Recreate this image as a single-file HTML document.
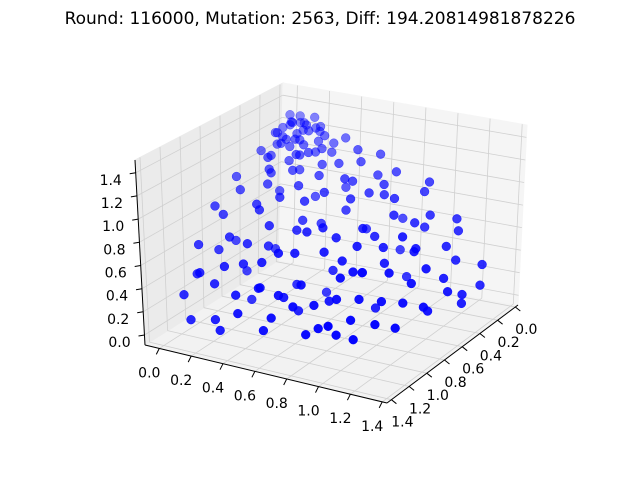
<!DOCTYPE html>
<html><head><meta charset="utf-8"><style>
html,body{margin:0;padding:0;background:#fff}
svg{display:block}
text{font-family:"DejaVu Sans","Liberation Sans",sans-serif}
</style></head><body>
<svg id="chart" width="640" height="480" viewBox="0 0 640 480">
<text x="320" y="24" text-anchor="middle" font-size="17" fill="#000">Round: 116000, Mutation: 2563, Diff: 194.20814981878226</text>
<g id="panes"></g>
<g id="grid"></g>
<g id="axes"></g>
<g id="points"></g>
</svg>
<script>
const xTicks = [0.0,0.2,0.4,0.6,0.8,1.0,1.2,1.4];
const yTicks = [0.0,0.2,0.4,0.6,0.8,1.0,1.2,1.4];
const zTicks = [0.0,0.2,0.4,0.6,0.8,1.0,1.2,1.4];
const xs = [0.04,0.09,0.13,0.02,0.18,0.07,0.22,0.26,0.11,0,0.04,0.16,0.31,0.25,0.35,0.04,0.19,0.09,0.28,0.13,
0.53,0.18,0.62,0.44,0.7,0.09,0.4,0.79,0.26,0.57,0.02,0.48,0.66,0.31,0.44,0.26,0.75,0.53,0.88,0.09,
0.97,0.18,0.88,0.53,1.01,0.4,0.75,1.06,0.04,0.84,0.35,0.66,0.92,0.26,1.1,0.22,0.79,0.84,0.62,0.97,
1.14,0.18,1.06,0.53,0.88,0.79,1.19,0.35,0.97,0.7,1.23,0.04,1.1,0.44,0.62,1.06,1.21,0.22,0.88,0.75,
1.23,0.26,1.06,0.7,0.92,1.14,0.48,1.25,0.09,0.84,
0.44,0.62,0.26,0.7,0.44,0.53,0.79,0.18,0.35,0.62,0.84,0.53,0.88,0.26,0.18,0.44,0.75,0.09,0.57,0.4,
0.13,0.48,0.35,0.53,0.04,0.88,1.14,0.53,1.01,0.84,1.1,0.09,0.7,0.22,0.97,0.48,0.79,0.66,1.14,0.31,
0.06,0.12,0.2,0.03,0.16,0.24,0.1,0.3,0.08,0.18,0.14,0.27,0.05,0.21,0.33,0.11,0.02,0.19,0.36,0.09,
0.62,0.2,0.45,0.78,0.1,0.9,0.35,0.55,0.7,0.28,0.95,0.15,0.5,0.82,0.4,1.0,0.6,0.25,0.72,0.05];
const ys = [0.09,0.04,0.18,0.22,0.07,0.13,0.26,0.11,0.31,0.04,0,0.25,0.22,0.35,0.04,0.4,0.16,0.26,0.31,0,
0.18,0.53,0.44,0.62,0.09,0.7,0.4,0.26,0.79,0.04,0.62,0.48,0.31,0.66,0.26,0.44,0.53,0.75,0.09,0.88,
0.18,0.97,0.53,0.88,0.4,1.01,0.75,0.04,1.06,0.35,0.84,0.66,0.26,0.92,0.22,1.1,0.84,0.79,0.97,0.62,
0.18,1.14,0.53,1.06,0.79,0.88,0.35,1.19,0.7,0.97,0.04,1.23,0.44,1.1,1.06,0.62,0.22,1.21,0.88,1.01,
0.26,1.23,0.7,1.06,0.92,0.48,1.14,0.09,1.25,0.97,
0.44,0.26,0.62,0.44,0.7,0.53,0.18,0.79,0.35,0.62,0.53,0.84,0.26,0.88,0.44,0.18,0.09,0.75,0.4,0.57,
0.48,0.13,0.53,0.35,0.88,0.04,0.53,1.14,0.84,1.06,0.09,1.14,0.22,0.75,0.48,0.97,0.66,0.79,0.31,1.14,
0.03,0.1,0.06,0.16,0.2,0.14,0.24,0.08,0.3,0.02,0.27,0.22,0.12,0.32,0.15,0.05,0.2,0.36,0.3,0.38,
0.15,0.6,0.72,0.45,0.95,0.55,0.85,0.3,0.8,1.0,0.2,0.5,0.95,0.65,1.05,0.4,0.7,0.35,0.25,1.1];
const zs = [1.25,1.23,1.21,1.21,1.22,1.27,1.17,1.19,1.18,1.28,1.26,1.2,1.14,1.13,1.16,1.14,1.24,1.21,1.14,1.27,
1.06,1.04,0.88,0.9,0.97,0.95,1.01,0.84,0.86,1.07,1.01,0.92,0.88,0.92,1.06,1.04,0.7,0.72,0.84,0.82,
0.7,0.69,0.57,0.6,0.53,0.55,0.53,0.62,0.63,0.75,0.77,0.66,0.66,0.63,0.48,0.51,0.44,0.48,0.4,0.42,
0.35,0.37,0.31,0.33,0.26,0.28,0.18,0.19,0.22,0.25,0.26,0.28,0.4,0.39,0.26,0.19,0.09,0.11,0.13,0.09,
0.04,0.04,0.02,0.05,0,0.07,0.06,0.11,0.09,0.04,
0.62,0.53,0.44,0.26,0.22,0.09,0.35,0.31,0.79,0.35,0.04,0.09,0.18,0.13,0.84,0.81,0.57,0.53,0.75,0.7,
1.14,1.13,0.97,0.99,0.88,0.9,0.13,0.18,0.11,0.16,0.55,0.44,0.92,0.88,0.66,0.63,0.62,0.6,0.26,0.31,
1.22,1.2,1.19,1.23,1.17,1.15,1.18,1.12,1.16,1.21,1.14,1.1,1.24,1.11,1.08,1.22,1.2,1.07,1.05,1.1,
0.95,0.98,0.7,0.6,0.55,0.45,0.6,0.95,0.2,0.5,0.6,1.05,0.25,0.4,0.35,0.5,0.75,1.0,0.85,0.4];

// geometry (screen corners of the bounding box)
const XR=[-0.09,1.43], YR=[-0.03,1.45], ZR=[-0.086,1.51];
const B0={D:[279,260],C:[518,305],A:[145,345],B:[387,403]};
const T0={D:[283,83],C:[527,125],A:[135,160],B:[392,198]};
function bil(P,u,v){
  const k=i=>P.D[i]*(1-u)*(1-v)+P.C[i]*u*(1-v)+P.A[i]*(1-u)*v+P.B[i]*u*v;
  return [k(0),k(1)];
}
function proj(x,y,z){
  const u=(x-XR[0])/(XR[1]-XR[0]), v=(y-YR[0])/(YR[1]-YR[0]), w=(z-ZR[0])/(ZR[1]-ZR[0]);
  const b=bil(B0,u,v), t=bil(T0,u,v);
  return [b[0]+(t[0]-b[0])*w, b[1]+(t[1]-b[1])*w, u+v];
}
const NS="http://www.w3.org/2000/svg";
function mk(tag,attrs,parent){const e=document.createElementNS(NS,tag);for(const k in attrs)e.setAttribute(k,attrs[k]);parent.appendChild(e);return e;}
const panes=document.getElementById('panes'),grid=document.getElementById('grid'),axes=document.getElementById('axes'),pts=document.getElementById('points');
function poly(ps){return ps.map(p=>p[0].toFixed(1)+','+p[1].toFixed(1)).join(' ');}
let pf=mk('polygon',{points:poly([proj(XR[0],YR[0],ZR[0]),proj(XR[1],YR[0],ZR[0]),proj(XR[1],YR[1],ZR[0]),proj(XR[0],YR[1],ZR[0])]),fill:'#f2f2f2',stroke:'#f2f2f2'},panes);

let pl=mk('polygon',{points:poly([proj(XR[0],YR[0],ZR[0]),proj(XR[0],YR[1],ZR[0]),proj(XR[0],YR[1],ZR[1]),proj(XR[0],YR[0],ZR[1])]),fill:'#ebebeb',stroke:'#ebebeb'},panes);

let pr=mk('polygon',{points:poly([proj(XR[0],YR[0],ZR[0]),proj(XR[1],YR[0],ZR[0]),proj(XR[1],YR[0],ZR[1]),proj(XR[0],YR[0],ZR[1])]),fill:'#f5f5f5',stroke:'#f5f5f5'},panes);

function line(p,q,col,wd,par,name){const l=mk('line',{x1:p[0].toFixed(1),y1:p[1].toFixed(1),x2:q[0].toFixed(1),y2:q[1].toFixed(1),stroke:col,'stroke-width':wd},par);

return l;}
const gc='#d0d0d0';
xTicks.forEach(t=>{line(proj(t,YR[0],ZR[0]),proj(t,YR[1],ZR[0]),gc,0.8,grid,'x-gridline');line(proj(t,YR[0],ZR[0]),proj(t,YR[0],ZR[1]),gc,0.8,grid,'x-gridline');});
yTicks.forEach(t=>{line(proj(XR[0],t,ZR[0]),proj(XR[1],t,ZR[0]),gc,0.8,grid,'y-gridline');line(proj(XR[0],t,ZR[0]),proj(XR[0],t,ZR[1]),gc,0.8,grid,'y-gridline');});
zTicks.forEach(t=>{line(proj(XR[0],YR[0],t),proj(XR[1],YR[0],t),gc,0.8,grid,'z-gridline');line(proj(XR[0],YR[0],t),proj(XR[0],YR[1],t),gc,0.8,grid,'z-gridline');});
line(proj(XR[0],YR[1],ZR[0]),proj(XR[1],YR[1],ZR[0]),'#000',1,axes,'x-axis-line');
line(proj(XR[1],YR[1],ZR[0]),proj(XR[1],YR[0],ZR[0]),'#000',1,axes,'y-axis-line');
line(proj(XR[0],YR[1],ZR[0]),proj(XR[0],YR[1],ZR[1]),'#000',1,axes,'z-axis-line');
function lab(p,s,name){const t=mk('text',{x:p[0].toFixed(1),y:p[1].toFixed(1),'text-anchor':'middle','font-size':'14',fill:'#000'},axes);t.textContent=s;

}
xTicks.forEach(t=>{const p=proj(t,YR[1],ZR[0]);line(p,[p[0]-3,p[1]+6],'#000',1,axes,'x-tick');lab([p[0]-10,p[1]+29],t.toFixed(1),'x-tick-label');});
yTicks.forEach(t=>{const p=proj(XR[1],t,ZR[0]);line(p,[p[0]+5,p[1]+4],'#000',1,axes,'y-tick');lab([p[0]+11,p[1]+27],t.toFixed(1),'y-tick-label');});
zTicks.forEach(t=>{const p=proj(XR[0],YR[1],t);line([p[0]-6,p[1]+1],p,'#000',1,axes,'z-tick');lab([p[0]-25,p[1]+12],t.toFixed(1),'z-tick-label');});
const idx=xs.map((_,i)=>i).map(i=>({i,p:proj(xs[i],ys[i],zs[i])})).sort((a,b)=>a.p[2]-b.p[2]);
const dmin=Math.min(...idx.map(o=>o.p[2])),dmax=Math.max(...idx.map(o=>o.p[2]));
idx.forEach(o=>{const a=0.45+0.55*(o.p[2]-dmin)/(dmax-dmin);
const c=mk('circle',{cx:o.p[0].toFixed(1),cy:o.p[1].toFixed(1),r:4.4,fill:'#0000ff','fill-opacity':a.toFixed(2),stroke:'#0000ff','stroke-opacity':a.toFixed(2),'stroke-width':0.5},pts);

});
</script>
</body></html>
